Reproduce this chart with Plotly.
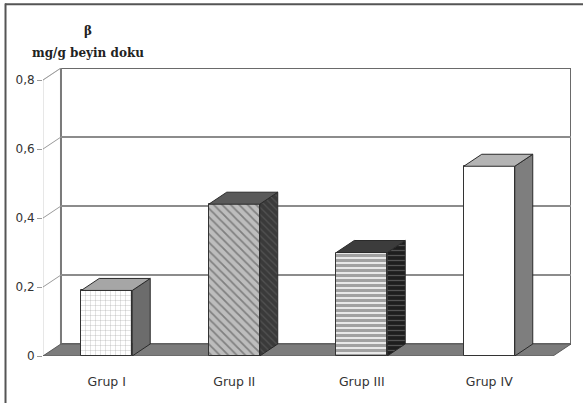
import plotly.graph_objects as go

# Data
groups = ["Grup I", "Grup II", "Grup III", "Grup IV"]
values = [0.19, 0.44, 0.30, 0.55]
y_ticks = [0, 0.2, 0.4, 0.6, 0.8]
y_tick_labels = ["0", "0,2", "0,4", "0,6", "0,8"]

# Bar styling (front face, top face, side face)
front_bg = ["#ffffff", "#bdbdbd", "#ffffff", "#ffffff"]
front_fg = ["#d4d4d4", "#555555", "#222222", "#ffffff"]
front_shape = ["+", "\\", "-", ""]
front_size = [5, 6, 5, 6]
front_solid = [0.12, 0.3, 0.7, 0.3]
top_color = ["#a6a6a6", "#5a5a5a", "#3c3c3c", "#b4b4b4"]
side_color = ["#6c6c6c", "#3a3a3a", "#1e1e1e", "#7e7e7e"]
side_shape = ["", "\\", "-", ""]
side_fg = ["#6c6c6c", "#6a6a6a", "#8a8a8a", "#7e7e7e"]

# 3-D look: depth offset in data units
bar_w = 0.4
dx = 0.141
dy = 0.0348
y_top = 0.8
x_lo, x_hi = -0.5, 3.5

fig = go.Figure()

fig.add_trace(go.Bar(
    x=list(range(len(groups))), y=values, width=bar_w,
    marker=dict(
        color=front_bg,
        line=dict(color="#333333", width=1),
        pattern=dict(shape=front_shape, fgcolor=front_fg, bgcolor=front_bg,
                     size=front_size, solidity=front_solid),
    ),
    hoverinfo="skip", showlegend=False,
))

# Side and top faces of each column
for i, v in enumerate(values):
    r = i + bar_w / 2
    l = i - bar_w / 2
    fig.add_trace(go.Scatter(
        x=[r, r + dx, r + dx, r, r], y=[0, dy, v + dy, v, 0],
        fill="toself", fillcolor=side_color[i], mode="lines",
        fillpattern=dict(shape=side_shape[i], fgcolor=side_fg[i],
                         bgcolor=side_color[i], size=5, solidity=0.25),
        line=dict(color="#2a2a2a", width=1), hoverinfo="skip", showlegend=False,
    ))
    fig.add_trace(go.Scatter(
        x=[l, r, r + dx, l + dx, l], y=[v, v, v + dy, v + dy, v],
        fill="toself", fillcolor=top_color[i], mode="lines",
        line=dict(color="#2a2a2a", width=1), hoverinfo="skip", showlegend=False,
    ))

shapes = []
# Back wall
shapes.append(dict(type="rect", xref="x", yref="y", layer="below",
                   x0=x_lo + dx, x1=x_hi + dx, y0=dy, y1=y_top + dy,
                   fillcolor="white", line=dict(color="#6a6a6a", width=2)))
# Left wall
shapes.append(dict(type="path", xref="x", yref="y", layer="below",
                   path=f"M {x_lo},0 L {x_lo + dx},{dy} L {x_lo + dx},{y_top + dy} L {x_lo},{y_top} Z",
                   fillcolor="white", line=dict(color="#d0d0d0", width=1)))
shapes.append(dict(type="line", xref="x", yref="y", layer="below",
                   x0=x_lo + dx, x1=x_lo + dx, y0=dy, y1=y_top + dy,
                   line=dict(color="#7a7a7a", width=2)))
# Gridlines on back wall plus slants on left wall
for t in y_ticks[1:]:
    if t != y_top:
        shapes.append(dict(type="line", xref="x", yref="y", layer="below",
                           x0=x_lo + dx, x1=x_hi + dx, y0=t + dy, y1=t + dy,
                           line=dict(color="#8c8c8c", width=2)))
    shapes.append(dict(type="line", xref="x", yref="y", layer="below",
                       x0=x_lo, x1=x_lo + dx, y0=t, y1=t + dy,
                       line=dict(color="#9a9a9a", width=1)))
# Floor
shapes.append(dict(type="path", xref="x", yref="y", layer="below",
                   path=f"M {x_lo},0 L {x_hi},0 L {x_hi + dx},{dy} L {x_lo + dx},{dy} Z",
                   fillcolor="#7c7c7c", line=dict(color="#5a5a5a", width=1)))
# Category separators under the floor edge
for s in [0.5, 1.5, 2.5]:
    shapes.append(dict(type="line", xref="x", yref="y", layer="below",
                       x0=s, x1=s, y0=0, y1=-0.017,
                       line=dict(color="#808080", width=1)))
# Outer frame (top and left)
shapes.append(dict(type="line", xref="paper", yref="paper",
                   x0=-0.072, x1=1.05, y0=1.221, y1=1.221,
                   line=dict(color="#555555", width=2)))
shapes.append(dict(type="line", xref="paper", yref="paper",
                   x0=-0.071, x1=-0.071, y0=1.224, y1=-0.2,
                   line=dict(color="#555555", width=2)))

title_font = dict(family="DejaVu Serif, serif", size=12, color="#222222")

fig.update_layout(
    width=583, height=403,
    margin=dict(l=43, r=12, t=68, b=47),
    paper_bgcolor="white", plot_bgcolor="white",
    shapes=shapes,
    bargap=0,
    font=dict(family="DejaVu Sans, sans-serif", size=12, color="#333333"),
    annotations=[
        dict(text="<b>β</b>", xref="paper", yref="paper", x=0.085, y=1.128,
             xanchor="center", yanchor="middle", showarrow=False, font=title_font),
        dict(text="<b>mg/g beyin doku</b>", xref="paper", yref="paper", x=0.085, y=1.053,
             xanchor="center", yanchor="middle", showarrow=False, font=title_font),
    ],
)
fig.update_xaxes(
    range=[x_lo, x_hi + dx], tickvals=list(range(len(groups))), ticktext=groups,
    ticks="", showgrid=False, zeroline=False, showline=False,
    ticklabelstandoff=16, tickfont=dict(size=12.5), fixedrange=True,
)
fig.update_yaxes(
    range=[0, y_top + dy], tickvals=y_ticks, ticktext=y_tick_labels,
    ticks="outside", ticklen=5, tickcolor="#9a9a9a", showgrid=False,
    zeroline=False, showline=False, fixedrange=True,
)

fig.write_html("out.html")
